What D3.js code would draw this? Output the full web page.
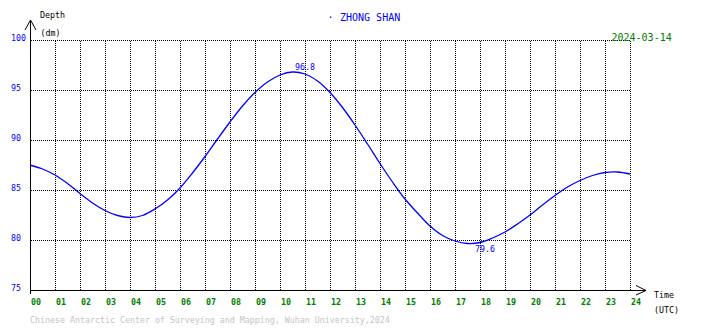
<!DOCTYPE html>
<html>
<head>
<meta charset="utf-8">
<script src="https://cdn.jsdelivr.net/npm/d3@7"></script>
<style>
  html, body { margin: 0; padding: 0; background: #fff; }
  svg { display: block; }
  text { font-family: "DejaVu Sans Mono", "Liberation Mono", monospace; }
</style>
</head>
<body>
<svg id="chart" width="710" height="328"></svg>
<script>
// ---- data ----
const hours = [0,0.5,1,1.5,2,2.5,3,3.5,4,4.5,5,5.5,6,6.5,7,7.5,8,8.5,9,9.5,10,10.5,11,11.5,12,
               12.5,13,13.5,14,14.5,15,15.5,16,16.5,17,17.5,18,18.5,19,19.5,20,20.5,21,21.5,22,22.5,23,23.5,24];
const depth = [87.5,87.1,86.5,85.65,84.65,83.7,82.95,82.45,82.25,82.45,83.1,84.0,85.2,86.7,88.35,90.1,91.8,93.4,94.75,95.8,96.5,96.8,96.6,95.9,94.75,
               93.25,91.5,89.6,87.65,85.8,84.1,82.7,81.4,80.45,79.9,79.65,79.75,80.2,80.8,81.6,82.5,83.5,84.45,85.3,85.95,86.45,86.75,86.8,86.6];
const yTicks = [75, 80, 85, 90, 95, 100];
const xTicks = d3.range(0, 25);
const xTickLabels = xTicks.map(h => String(h).padStart(2, "0"));
const peak = { hour: 10.5, value: 96.8, label: "96.8" };
const trough = { hour: 17.7, value: 79.6, label: "79.6" };
const stationTitle = "ZHONG SHAN";
const dateLabel = "2024-03-14";
const footer = "Chinese Antarctic Center of Surveying and Mapping, Wuhan University,2024";

// ---- scales ----
const x = d3.scaleLinear().domain([0, 24]).range([30, 630]);
const y = d3.scaleLinear().domain([75, 100]).range([290, 40]);

const svg = d3.select("#chart");
const BLUE = "#0000ff", GREEN = "#008000", GREY = "#c4c4c4";
const F1 = 8.3, F2 = 10;

// grid (dotted)
const grid = svg.append("g").attr("shape-rendering", "crispEdges")
  .attr("stroke", "#000").attr("stroke-width", 1).attr("stroke-dasharray", "1,1");
grid.selectAll("line.h").data(yTicks.filter(v => v > 75)).join("line")
  .attr("x1", x(0) + 1).attr("x2", x(24))
  .attr("y1", d => Math.round(y(d)) + 0.5).attr("y2", d => Math.round(y(d)) + 0.5);
grid.selectAll("line.v").data(xTicks.filter(h => h > 0)).join("line")
  .attr("y1", y(100) + 1).attr("y2", y(75))
  .attr("x1", d => Math.round(x(d)) + 0.5).attr("x2", d => Math.round(x(d)) + 0.5);

// axes via d3 axis generators (ticks hidden, labels repositioned)
const yAxis = svg.append("g").attr("transform", "translate(11,0)")
  .call(d3.axisLeft(y).tickValues(yTicks).tickSize(0).tickFormat(d3.format("d")));
yAxis.select(".domain").remove();
yAxis.selectAll("text").attr("x", 0).attr("dy", null).attr("y", 0.5)
  .attr("text-anchor", "start").attr("fill", BLUE)
  .style("font-family", "DejaVu Sans Mono").style("font-size", F1 + "px");

const xAxis = svg.append("g").attr("transform", "translate(0,0)")
  .call(d3.axisBottom(x).tickValues(xTicks).tickSize(0).tickFormat((d, i) => xTickLabels[i]));
xAxis.select(".domain").remove();
xAxis.selectAll("text").attr("x", 0.5).attr("dy", null).attr("y", 304.5)
  .attr("text-anchor", "start").attr("fill", GREEN).attr("font-weight", "bold")
  .style("font-family", "DejaVu Sans Mono").style("font-size", F1 + "px");

// axis lines and arrows
const ax = svg.append("g").attr("stroke", "#000").attr("stroke-width", 1).attr("fill", "none");
ax.append("line").attr("x1", x(0) + 0.5).attr("x2", x(0) + 0.5).attr("y1", 20).attr("y2", 294)
  .attr("shape-rendering", "crispEdges");
ax.append("line").attr("x1", x(0)).attr("x2", 646).attr("y1", y(75) + 0.5).attr("y2", y(75) + 0.5)
  .attr("shape-rendering", "crispEdges");
ax.append("path").attr("d", `M${x(0) - 5},30 L${x(0) + 0.5},20 L${x(0) + 6},30`);
ax.append("path").attr("d", `M636,285.5 L646,290.5 L636,295`);

// tide curve
const line = d3.line().x((d, i) => x(hours[i])).y(d => y(d)).curve(d3.curveCatmullRom);
svg.append("path").datum(depth).attr("d", line)
  .attr("fill", "none").attr("stroke", BLUE).attr("stroke-width", 1.3);

// peak / trough labels
svg.append("text").attr("x", x(peak.hour) + 2.5).attr("y", y(peak.value) - 2)
  .attr("fill", BLUE).style("font-size", F1 + "px").text(peak.label);
svg.append("text").attr("x", x(trough.hour) + 2.5).attr("y", y(trough.value) + 7.5)
  .attr("fill", BLUE).style("font-size", F1 + "px").text(trough.label);

// texts
svg.append("text").attr("x", 40).attr("y", 18).style("font-size", F1 + "px").attr("fill", "#000").text("Depth");
svg.append("text").attr("x", 40.5).attr("y", 35.5).style("font-size", F1 + "px").attr("fill", "#000").text("(dm)");
svg.append("text").attr("x", 327.5).attr("y", 20.5).style("font-size", F2 + "px").attr("fill", BLUE).text("·");
svg.append("text").attr("x", 340).attr("y", 20.7).style("font-size", F2 + "px").attr("fill", BLUE).text(stationTitle);
svg.append("text").attr("x", 611.5).attr("y", 41).style("font-size", F2 + "px").attr("fill", GREEN).text(dateLabel);
svg.append("text").attr("x", 654).attr("y", 297.5).style("font-size", F1 + "px").attr("fill", "#000").text("Time");
svg.append("text").attr("x", 654).attr("y", 312.5).style("font-size", F1 + "px").attr("fill", "#000").text("(UTC)");
svg.append("text").attr("x", 30).attr("y", 322.5).style("font-size", F1 + "px").attr("fill", GREY).text(footer);
</script>
</body>
</html>
